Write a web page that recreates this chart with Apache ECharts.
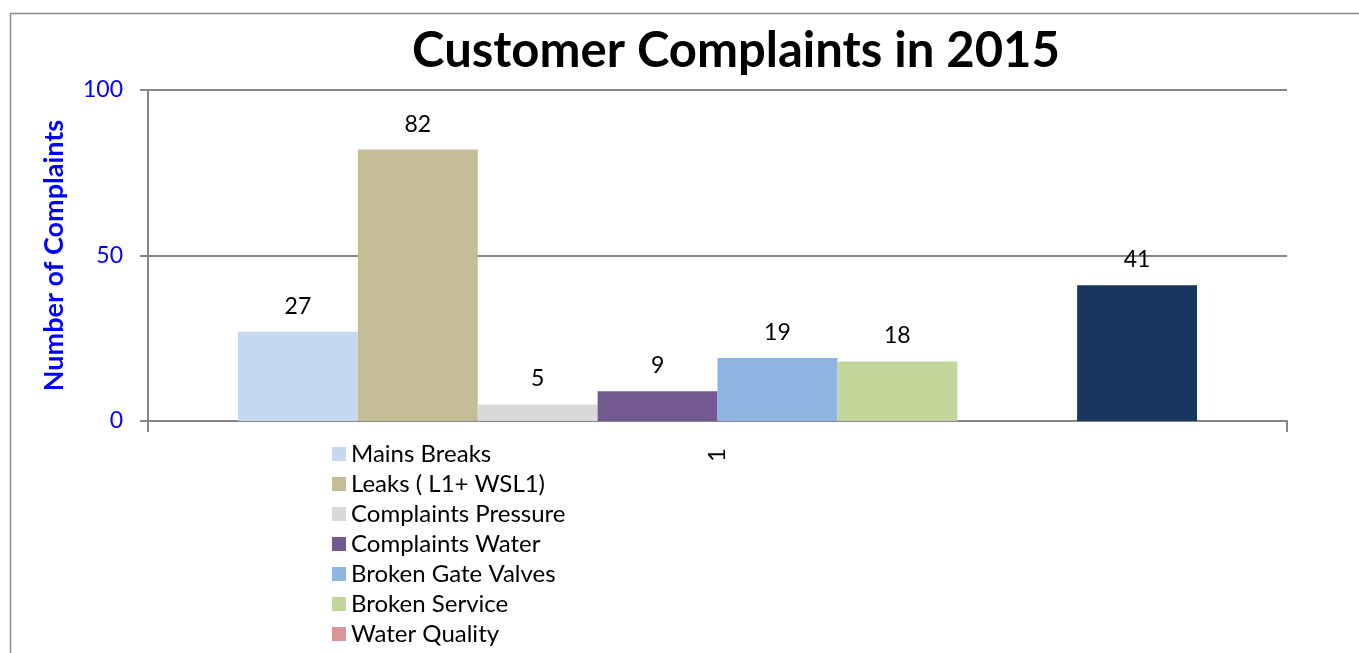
<!DOCTYPE html>
<html>
<head>
<meta charset="utf-8">
<script src="https://cdn.jsdelivr.net/npm/echarts@6/dist/echarts.min.js"></script>
<style>
  html, body { margin: 0; padding: 0; background: #fff; }
  #chart { width: 1359px; height: 653px; }
</style>
</head>
<body>
<div id="chart"></div>
<script>
  var categories = ['1'];
  var seriesNames = ['Mains Breaks', 'Leaks ( L1+ WSL1)', 'Complaints Pressure', 'Complaints Water',
                     'Broken Gate Valves', 'Broken Service', 'Water Quality', 'Other'];
  var seriesValues = [27, 82, 5, 9, 19, 18, 0, 41];
  var seriesColors = ['#C6D9F1', '#C4BD97', '#D9D9D9', '#72598F', '#8EB4E3', '#C3D69B', '#D99694', '#17375E'];
  var yTicks = [0, 50, 100];

  var font = 'Lato';
  var chart = echarts.init(document.getElementById('chart'));

  // one bar series per complaint type, all in the single category
  var series = seriesNames.map(function (name, i) {
    return {
      name: name,
      type: 'bar',
      data: [seriesValues[i]],
      barGap: '0%',
      barCategoryGap: '15.8%',
      itemStyle: { color: seriesColors[i] },
      label: {
        show: true,
        position: 'top',
        distance: 14,
        color: '#000',
        fontFamily: font,
        fontSize: 23,
        formatter: function (p) { return p.value ? p.value : ''; }
      }
    };
  });

  chart.setOption({
    animation: false,
    title: {
      text: 'Customer Complaints in 2015',
      left: 731,
      textAlign: 'center',
      top: 22,
      textStyle: { fontFamily: font, fontWeight: 'bold', fontSize: 49, color: '#000' }
    },
    legend: {
      orient: 'vertical',
      left: 332,
      top: 442,
      height: 300,
      padding: 0,
      icon: 'rect',
      itemWidth: 14,
      itemHeight: 14,
      itemGap: 6,
      data: seriesNames,
      textStyle: { fontFamily: font, fontSize: 24, color: '#000' }
    },
    graphic: [{
      type: 'rect',
      shape: { x: 10.5, y: 13.5, width: 1400, height: 700 },
      style: { fill: 'none', stroke: '#8c8c8c', lineWidth: 1.5 },
      silent: true
    }],
    grid: { left: 148, right: 72, top: 90, bottom: 232 },
    xAxis: {
      type: 'category',
      data: categories,
      axisLine: { lineStyle: { color: '#868686', width: 2 } },
      axisTick: { show: true, length: 11, lineStyle: { color: '#868686', width: 2 } },
      axisLabel: { rotate: 90, margin: 27, color: '#000', fontFamily: font, fontSize: 24 }
    },
    yAxis: {
      type: 'value',
      min: yTicks[0],
      max: yTicks[yTicks.length - 1],
      interval: yTicks[1] - yTicks[0],
      name: 'Number of Complaints',
      nameLocation: 'middle',
      nameGap: 80,
      nameTextStyle: { fontFamily: font, fontWeight: 'bold', fontSize: 27, color: '#0000FF' },
      axisLine: { show: true, lineStyle: { color: '#868686', width: 2 } },
      axisTick: { show: true, length: 8, lineStyle: { color: '#868686', width: 2 } },
      axisLabel: { margin: 25, color: '#0000FF', fontFamily: font, fontSize: 23 },
      splitLine: { show: true, lineStyle: { color: '#868686', width: 2 } }
    },
    series: series
  });
</script>
</body>
</html>
